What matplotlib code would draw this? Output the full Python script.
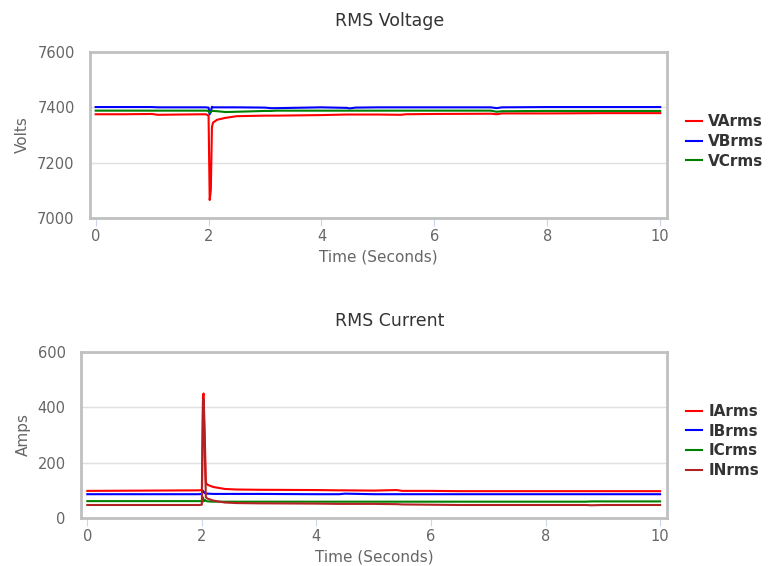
import numpy as np
import matplotlib.pyplot as plt

# RMS voltage (Volts)
tv = [0, 0.5, 1.0, 1.1, 1.5, 1.95, 2.0, 2.02, 2.04, 2.06, 2.08, 2.15, 2.3, 2.5, 3.0, 3.1,
      3.2, 4.0, 4.45, 4.5, 4.6, 5.0, 5.4, 5.5, 6.0, 7.0, 7.1, 7.2, 8.0, 9.0, 10.0]
va = [7375, 7375, 7376, 7373, 7374, 7375, 7370, 7065, 7100, 7330, 7345, 7355, 7362, 7368, 7370, 7370,
      7370, 7372, 7374, 7374, 7374, 7374, 7373, 7375, 7376, 7377, 7375, 7378, 7378, 7379, 7379]
vb = [7401, 7401, 7401, 7400, 7400, 7400, 7399, 7375, 7385, 7402, 7400, 7400, 7400, 7400, 7399, 7397,
      7397, 7400, 7398, 7396, 7399, 7400, 7400, 7400, 7400, 7400, 7397, 7400, 7401, 7401, 7401]
vc = [7388, 7388, 7388, 7388, 7388, 7388, 7387, 7380, 7382, 7388, 7387, 7386, 7383, 7384, 7387, 7387,
      7388, 7388, 7388, 7388, 7388, 7388, 7388, 7388, 7388, 7388, 7384, 7386, 7387, 7387, 7387]

# RMS current (Amps)
ti = [0, 1.0, 1.95, 2.0, 2.02, 2.03, 2.05, 2.07, 2.1, 2.2, 2.4, 2.6, 3.0, 4.0, 4.4, 4.5,
      5.0, 5.4, 5.5, 6.0, 6.5, 7.0, 8.0, 8.7, 8.8, 9.0, 10.0]
ia = [98, 99, 100, 101, 440, 450, 300, 127, 120, 112, 105, 103, 102, 101, 100, 100,
      99, 101, 98, 98, 97, 97, 97, 97, 97, 97, 97]
ib = [86, 86, 86, 87, 98, 95, 90, 88, 88, 87, 87, 87, 87, 86, 86, 88,
      86, 86, 86, 86, 86, 86, 86, 86, 86, 86, 86]
ic = [61, 61, 61, 61, 75, 60, 66, 62, 60, 59, 59, 59, 59, 59, 59, 59,
      59, 59, 59, 59, 59, 59, 59, 59, 60, 60, 60]
inn = [47, 47, 47, 48, 420, 430, 250, 75, 70, 63, 56, 54, 53, 52, 51, 51,
       51, 50, 49, 48, 47, 47, 47, 47, 46, 47, 47]

xticks = [0, 2, 4, 6, 8, 10]

txt = '#333333'
lab = '#666666'
colors = ['#ff0000', '#0000ff', '#008000', '#b22222']

fig = plt.figure(figsize=(7.69, 5.66), dpi=100)


def panel(rect, title, title_y, ylabel, ylab_x, yticks, t, series, names, xlim, leg_y):
    ax = fig.add_axes(rect)
    for y, c, n in zip(series, colors, names):
        ax.plot(t, y, color=c, lw=1.5, label=n)
    ax.set_xlim(*xlim)
    ax.set_ylim(yticks[0], yticks[-1])
    ax.set_yticks(yticks)
    ax.set_xticks(xticks)
    ax.grid(True, axis='y', color='#e0e0e0', lw=1)
    ax.set_axisbelow(True)
    for s in ax.spines.values():
        s.set_color('#c0c0c0')
        s.set_linewidth(2)
    ax.tick_params(axis='y', length=0, labelsize=10.5, labelcolor=lab, pad=11)
    ax.tick_params(axis='x', length=6, color='#ccd6eb', labelsize=10.5, labelcolor=lab, pad=2)
    fig.text(390 / 769, 1 - title_y / 566, title, fontsize=12.5, color=txt,
             ha='center', va='center')
    ax.set_ylabel(ylabel, fontsize=11, color=lab)
    ax.yaxis.set_label_coords(ylab_x, 0.5)
    ax.set_xlabel('Time (Seconds)', fontsize=11, color=lab, labelpad=4)
    leg = ax.legend(loc='center left', bbox_to_anchor=(686 / 769, 1 - leg_y / 566),
                    bbox_transform=fig.transFigure, frameon=False,
                    prop={'weight': 'bold', 'size': 11}, handlelength=1.05,
                    handletextpad=0.4, labelspacing=0.3, borderpad=0, borderaxespad=0)
    for tx in leg.get_texts():
        tx.set_color(txt)
    return ax


panel([90 / 769, 1 - 218 / 566, 577 / 769, 166 / 566], 'RMS Voltage', 21, 'Volts', -0.104,
      [7000, 7200, 7400, 7600], tv, [va, vb, vc], ['VArms', 'VBrms', 'VCrms'],
      (-0.1, 10.12), 141.5)
panel([81 / 769, 1 - 518 / 566, 586 / 769, 166 / 566], 'RMS Current', 321, 'Amps', -0.086,
      [0, 200, 400, 600], ti, [ia, ib, ic, inn], ['IArms', 'IBrms', 'ICrms', 'INrms'],
      (-0.11, 10.12), 441)

fig.savefig('out.png', dpi=100)
